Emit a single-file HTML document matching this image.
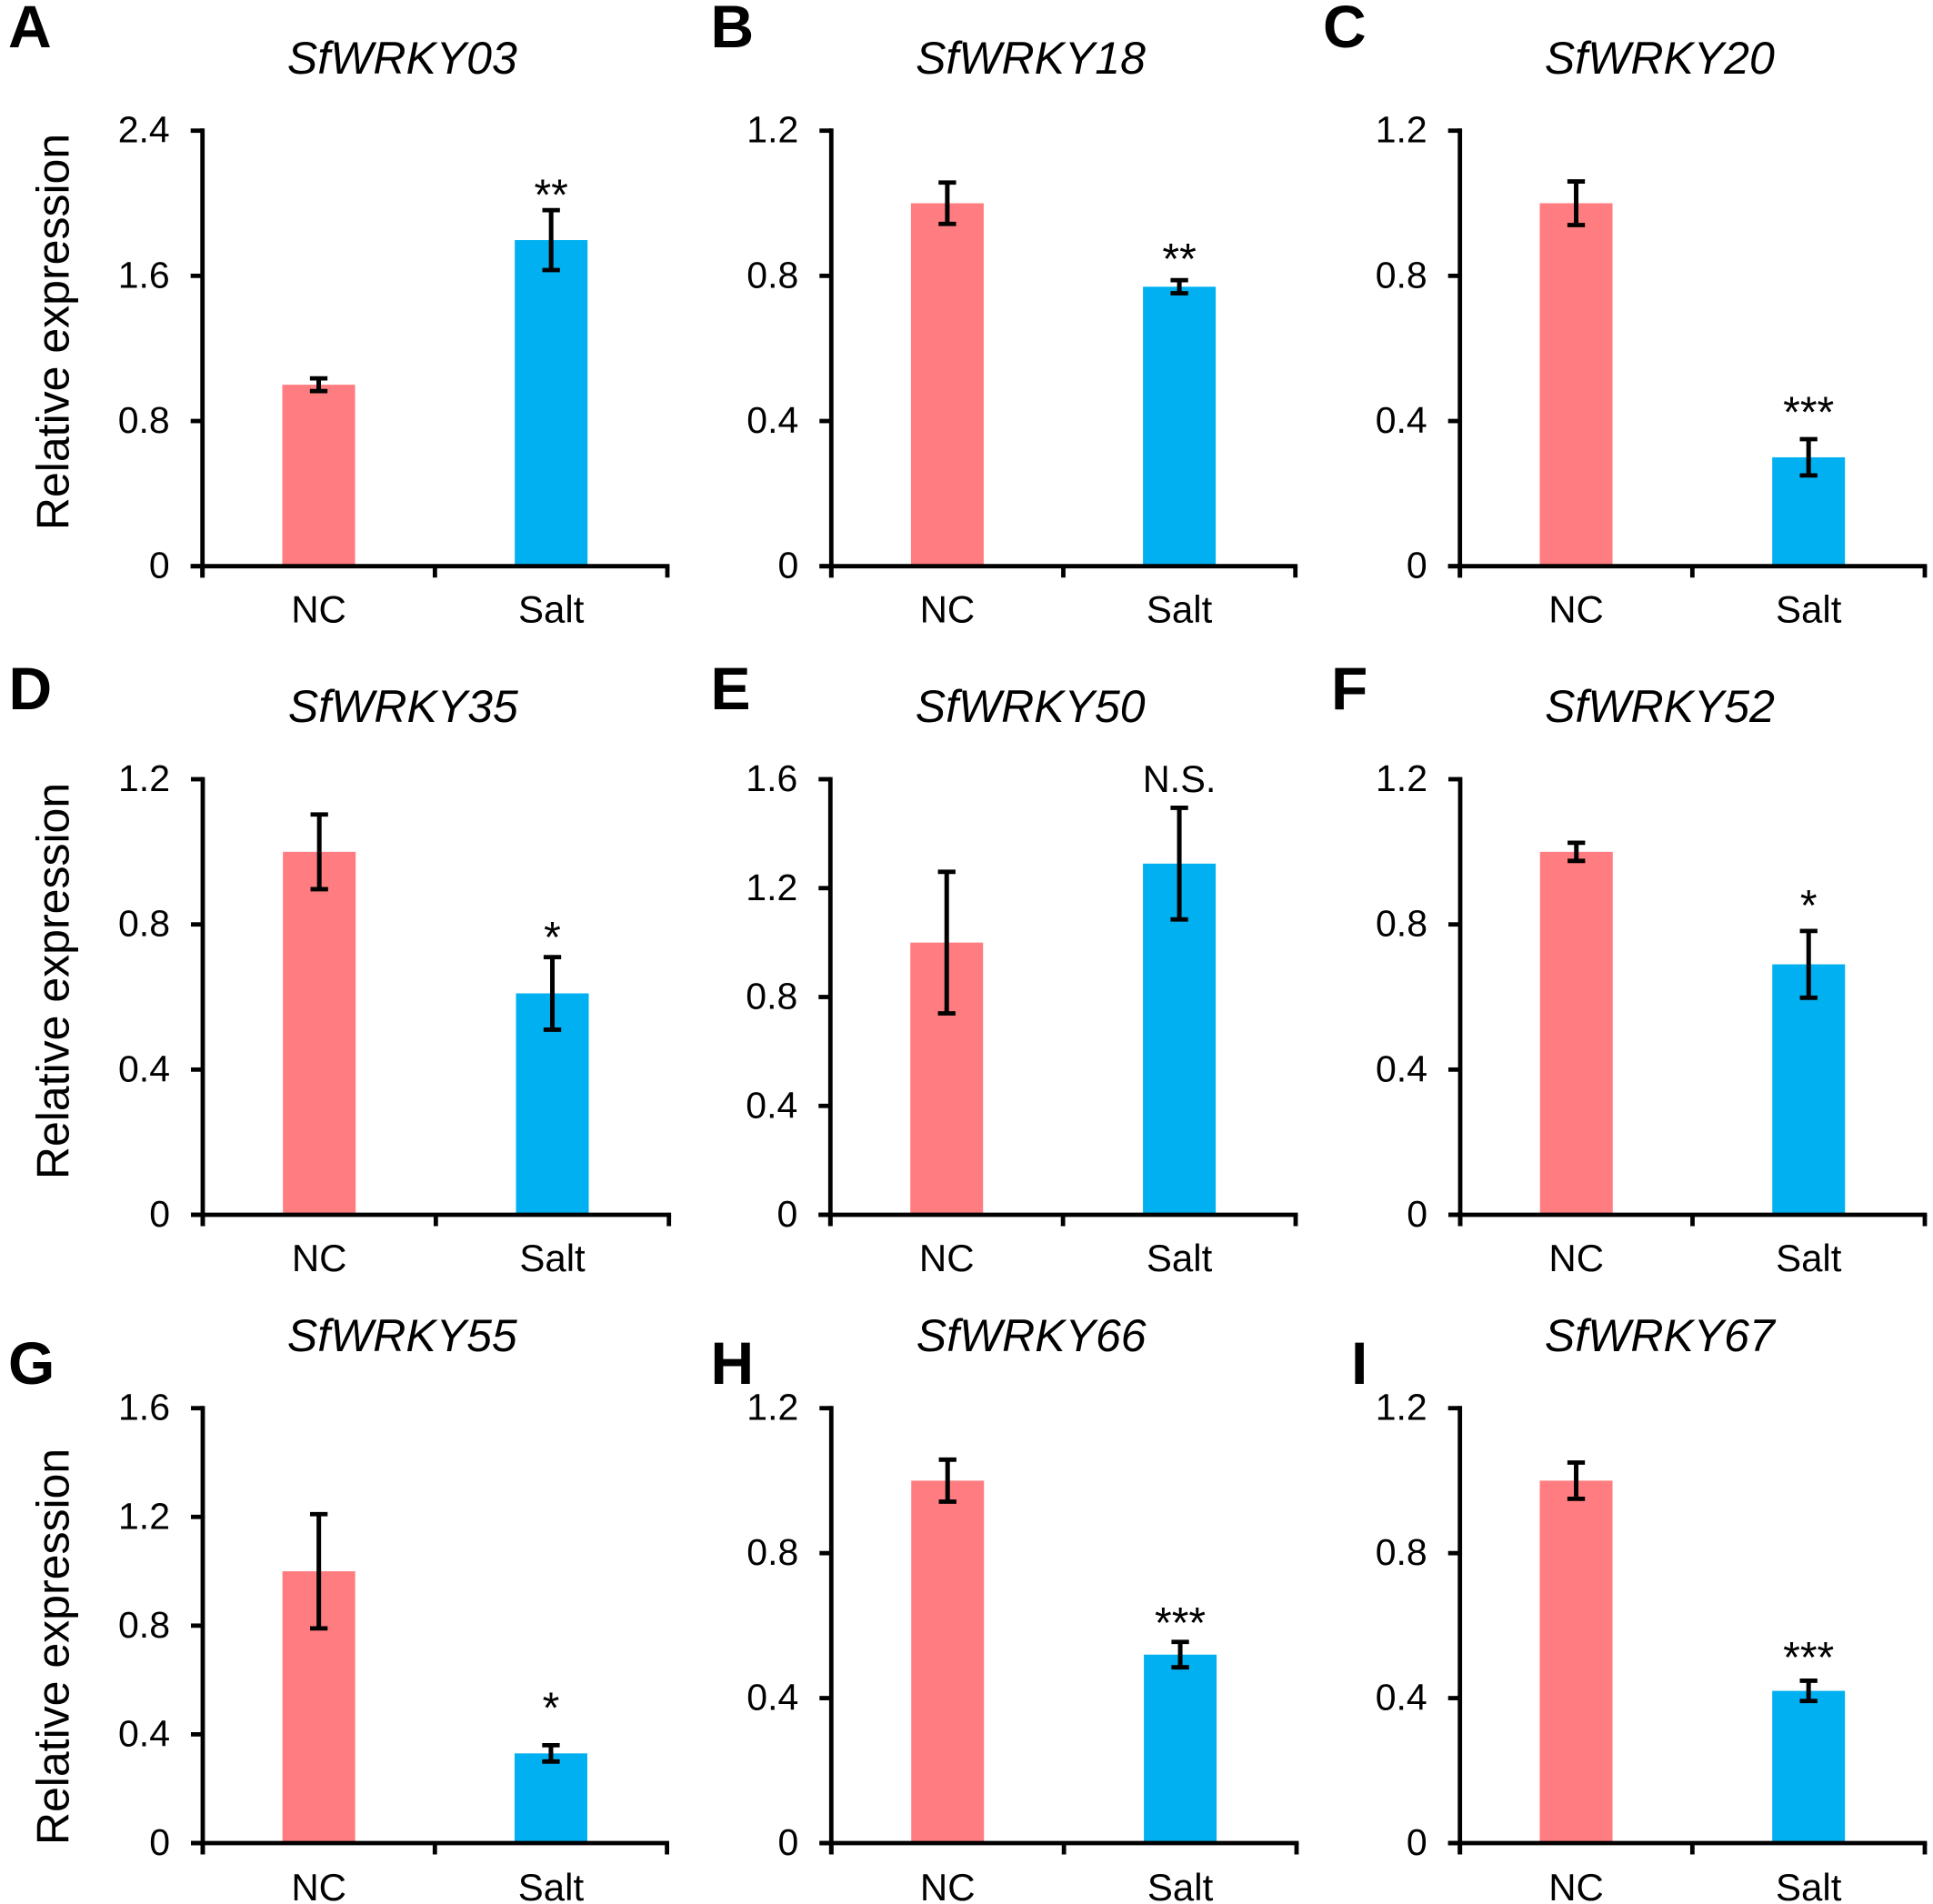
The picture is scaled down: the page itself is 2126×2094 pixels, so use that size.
<!DOCTYPE html>
<html lang="en">
<head>
<meta charset="utf-8">
<title>Relative expression of SfWRKY genes under salt</title>
<style>
html,body{margin:0;padding:0;background:#fff;}
svg{display:block;font-family:"Liberation Sans",Arial,sans-serif;}
</style>
</head>
<body>
<svg id="figure" xmlns="http://www.w3.org/2000/svg" width="2126" height="2094" viewBox="0 0 2126 2094"></svg>
<script>
// ---- chart data ----
const panelLetters = ['A','B','C','D','E','F','G','H','I'];
const geneNames = ['SfWRKY03','SfWRKY18','SfWRKY20','SfWRKY35','SfWRKY50','SfWRKY52','SfWRKY55','SfWRKY66','SfWRKY67'];
const categories = ['NC','Salt'];
const yMaxValues = [2.4,1.2,1.2,1.2,1.6,1.2,1.6,1.2,1.2];
const yTickLabels = [
  ['0','0.8','1.6','2.4'],
  ['0','0.4','0.8','1.2'],
  ['0','0.4','0.8','1.2'],
  ['0','0.4','0.8','1.2'],
  ['0','0.4','0.8','1.2','1.6'],
  ['0','0.4','0.8','1.2'],
  ['0','0.4','0.8','1.2','1.6'],
  ['0','0.4','0.8','1.2'],
  ['0','0.4','0.8','1.2']
];
const ncValues = [1.0,1.0,1.0,1.0,1.0,1.0,1.0,1.0,1.0];
const ncErrors = [0.035,0.057,0.06,0.103,0.26,0.025,0.21,0.058,0.05];
const saltValues = [1.797,0.77,0.30,0.61,1.29,0.69,0.33,0.52,0.42];
const saltErrors = [0.165,0.018,0.05,0.10,0.205,0.092,0.03,0.035,0.028];
const sigLabels = ['**','**','***','*','N.S.','*','*','***','***'];
const sigHeights = [2.08,0.864,0.441,0.782,1.6,0.869,0.52,0.625,0.529];
const yAxisTitle = 'Relative expression';

// ---- layout (page geometry only) ----
const panelLeft = [222.7,914.3,1605.7,223,913.3,1606,223,914.3,1605.7];
const panelRight = [734,1424.7,2117,735.7,1425,2117,733.6,1426,2117];
const rowTop = [143.7,857,1548.7];
const rowBase = [622.7,1336,2027];
const letterXs = [9,781.5,1455,9.5,781.5,1464,9,781.5,1486];
const letterYs = [52,780,1522];
const titleYs = [81,794,1486];
const axisTitleYs = [365,1079,1811];
const xLabelOffsets = [62,62,63];
const axisColor = '#000';
const barColors = ['#FF7C80','#00B0F0'];
const barWidth = 80;
const capWidth = 19.3;
const lineWidth = 4.8;
const NS = 'http://www.w3.org/2000/svg';
const svg = document.getElementById('figure');

function make(parent, tag, props, content){
  const el = document.createElementNS(NS, tag);
  for (const k in props) el.setAttribute(k, props[k]);
  if (content !== undefined) el.textContent = content;
  parent.appendChild(el);
  return el;
}

panelLetters.forEach(function(letter, i){
  const col = i % 3, row = Math.floor(i / 3);
  const x0 = panelLeft[i], x1 = panelRight[i], yT = rowTop[row], y0 = rowBase[row];
  const yMax = yMaxValues[i];
  const yScale = function(v){ return y0 - (v / yMax) * (y0 - yT); };
  const xScale = function(c){ return x0 + (c + 0.5) * (x1 - x0) / categories.length; };

  const panel = make(svg, 'g', {});
  
  

  const letterEl = make(panel, 'text', {x:letterXs[i], y:letterYs[row], 'font-size':66, 'font-weight':'bold', fill:'#000'}, letter);
  
  

  const titleEl = make(panel, 'text', {x:(x0 + x1) / 2 - 36, y:titleYs[row], 'font-size':50, 'font-style':'italic', 'text-anchor':'middle', fill:'#000'}, geneNames[i]);
  
  

  if (col === 0) {
    const axisTitle = make(panel, 'text', {x:0, y:0, transform:'translate(75.5 ' + axisTitleYs[row] + ') rotate(-90)', 'font-size':50, 'text-anchor':'middle', fill:'#000'}, yAxisTitle);
    
    
  }

  categories.forEach(function(cat, c){
    const value = c === 0 ? ncValues[i] : saltValues[i];
    const bar = make(panel, 'rect', {x:xScale(c) - barWidth / 2, y:yScale(value), width:barWidth, height:y0 - yScale(value), fill:barColors[c]});
    
    
  });

  const yAxis = make(panel, 'line', {x1:x0, x2:x0, y1:yT - lineWidth / 2, y2:y0 + 12.5, stroke:axisColor, 'stroke-width':lineWidth});
  
  
  const xAxis = make(panel, 'line', {x1:x0 - 13, x2:x1 + lineWidth / 2, y1:y0, y2:y0, stroke:axisColor, 'stroke-width':lineWidth});
  
  

  yTickLabels[i].forEach(function(label){
    const v = parseFloat(label), ty = yScale(v);
    const tick = make(panel, 'line', {x1:x0 - 13, x2:x0, y1:ty, y2:ty, stroke:axisColor, 'stroke-width':lineWidth});
    
    
    const tl = make(panel, 'text', {x:x0 - 36, y:ty + 13, 'font-size':41, 'text-anchor':'end', fill:'#000'}, label);
    
    
  });

  [0, 1, 2].forEach(function(k){
    const tx = x0 + k * (x1 - x0) / categories.length;
    const tick = make(panel, 'line', {x1:tx, x2:tx, y1:y0, y2:y0 + 12.5, stroke:axisColor, 'stroke-width':lineWidth});
    
    
  });

  categories.forEach(function(cat, c){
    const value = c === 0 ? ncValues[i] : saltValues[i];
    const err = c === 0 ? ncErrors[i] : saltErrors[i];
    const cx = xScale(c), up = yScale(value + err), lo = yScale(value - err);
    const stem = make(panel, 'line', {x1:cx, x2:cx, y1:up, y2:lo, stroke:'#000', 'stroke-width':5});
    
    
    const capTop = make(panel, 'line', {x1:cx - capWidth / 2, x2:cx + capWidth / 2, y1:up, y2:up, stroke:'#000', 'stroke-width':lineWidth});
    
    
    const capLow = make(panel, 'line', {x1:cx - capWidth / 2, x2:cx + capWidth / 2, y1:lo, y2:lo, stroke:'#000', 'stroke-width':lineWidth});
    
    
    const xl = make(panel, 'text', {x:cx, y:y0 + xLabelOffsets[row], 'font-size':42, 'text-anchor':'middle', fill:'#000'}, cat);
    
    
  });

  const isStars = sigLabels[i].indexOf('*') >= 0;
  const sig = make(panel, 'text', {x:xScale(1), y:yScale(sigHeights[i]) + (isStars ? 23 : 14), 'font-size':isStars ? 48 : 41.5, 'text-anchor':'middle', fill:'#000'}, sigLabels[i]);
  
  
});
</script>
</body>
</html>
